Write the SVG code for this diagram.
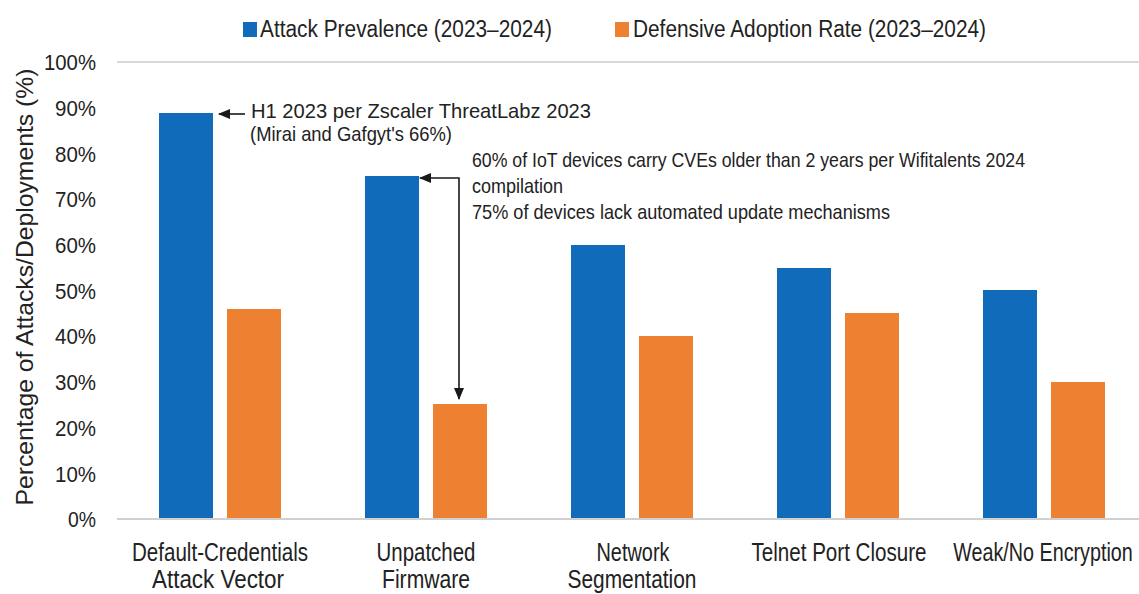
<svg xmlns="http://www.w3.org/2000/svg" width="1139" height="594" viewBox="0 0 1139 594">
  <style>
    text { font-family: "Liberation Sans Narrow", "Liberation Sans", Arial, sans-serif; fill: #222222; }
    .tick { font-size: 22px; text-anchor: end; }
    .cat { font-size: 25px; text-anchor: middle; }
    .legend { font-size: 23px; }
    .note { font-size: 21px; }
    .title { font-size: 24px; text-anchor: middle; }
    .grid { stroke: #d9d9d9; stroke-width: 2; }
    .base { stroke: #d0d0d0; stroke-width: 2; }
    .attack { fill: #106cba; }
    .defense { fill: #ee8131; }
    .arrow { fill: none; stroke: #1a1a1a; stroke-width: 1.6; }
  </style>
  <defs>
    <marker id="head" viewBox="0 0 12 10" refX="11" refY="5" markerWidth="12" markerHeight="10" markerUnits="userSpaceOnUse" orient="auto-start-reverse">
      <path d="M0,0 L12,5 L0,10 Z" fill="#1a1a1a"/>
    </marker>
  </defs>

  <rect width="1139" height="594" fill="#ffffff"/>

  <!-- legend -->
  <g id="legend">
    <rect class="attack" x="243" y="22" width="14" height="15"/>
    <text class="legend" x="260" y="37" textLength="292" lengthAdjust="spacingAndGlyphs">Attack Prevalence (2023–2024)</text>
    <rect class="defense" x="615" y="22" width="14" height="15"/>
    <text class="legend" x="633" y="37" textLength="353" lengthAdjust="spacingAndGlyphs">Defensive Adoption Rate (2023–2024)</text>
  </g>

  <!-- value axis -->
  <g id="axis-y">
    <line class="grid" x1="117" y1="62" x2="1139" y2="62"/>
    <text class="tick" x="96" y="70" textLength="52" lengthAdjust="spacingAndGlyphs">100%</text>
    <text class="tick" x="96" y="116" textLength="41" lengthAdjust="spacingAndGlyphs">90%</text>
    <text class="tick" x="96" y="162" textLength="41" lengthAdjust="spacingAndGlyphs">80%</text>
    <text class="tick" x="96" y="207" textLength="41" lengthAdjust="spacingAndGlyphs">70%</text>
    <text class="tick" x="96" y="253" textLength="41" lengthAdjust="spacingAndGlyphs">60%</text>
    <text class="tick" x="96" y="299" textLength="41" lengthAdjust="spacingAndGlyphs">50%</text>
    <text class="tick" x="96" y="344" textLength="41" lengthAdjust="spacingAndGlyphs">40%</text>
    <text class="tick" x="96" y="390" textLength="41" lengthAdjust="spacingAndGlyphs">30%</text>
    <text class="tick" x="96" y="436" textLength="41" lengthAdjust="spacingAndGlyphs">20%</text>
    <text class="tick" x="96" y="482" textLength="41" lengthAdjust="spacingAndGlyphs">10%</text>
    <text class="tick" x="96" y="527" textLength="28" lengthAdjust="spacingAndGlyphs">0%</text>
    <text class="title" transform="translate(33,287) rotate(-90)" x="0" y="0" textLength="437" lengthAdjust="spacingAndGlyphs">Percentage of Attacks/Deployments (%)</text>
  </g>

  <!-- bars: blue = attack prevalence, orange = defensive adoption -->
  <g id="cat-default-credentials">
    <rect class="attack" x="159" y="113" width="54" height="406"/>
    <rect class="defense" x="227" y="309" width="54" height="210"/>
    <text class="cat" x="220" y="561" textLength="176" lengthAdjust="spacingAndGlyphs">Default-Credentials</text>
    <text class="cat" x="218" y="588" textLength="132" lengthAdjust="spacingAndGlyphs">Attack Vector</text>
  </g>
  <g id="cat-unpatched-firmware">
    <rect class="attack" x="365" y="176" width="54" height="343"/>
    <rect class="defense" x="433" y="404" width="54" height="115"/>
    <text class="cat" x="426" y="561" textLength="99" lengthAdjust="spacingAndGlyphs">Unpatched</text>
    <text class="cat" x="426" y="588" textLength="88" lengthAdjust="spacingAndGlyphs">Firmware</text>
  </g>
  <g id="cat-network-segmentation">
    <rect class="attack" x="571" y="245" width="54" height="274"/>
    <rect class="defense" x="639" y="336" width="54" height="183"/>
    <text class="cat" x="633" y="561" textLength="73" lengthAdjust="spacingAndGlyphs">Network</text>
    <text class="cat" x="632" y="588" textLength="129" lengthAdjust="spacingAndGlyphs">Segmentation</text>
  </g>
  <g id="cat-telnet-port-closure">
    <rect class="attack" x="777" y="268" width="54" height="251"/>
    <rect class="defense" x="845" y="313" width="54" height="206"/>
    <text class="cat" x="839" y="561" textLength="175" lengthAdjust="spacingAndGlyphs">Telnet Port Closure</text>
  </g>
  <g id="cat-weak-encryption">
    <rect class="attack" x="983" y="290" width="54" height="229"/>
    <rect class="defense" x="1051" y="382" width="54" height="137"/>
    <text class="cat" transform="translate(1043,561) scale(0.79,1)" x="0" y="0">Weak/No Encryption</text>
  </g>

  <line class="base" x1="117" y1="519" x2="1139" y2="519"/>

  <!-- annotations -->
  <g id="note-zscaler">
    <text class="note" x="251" y="118" textLength="340" lengthAdjust="spacingAndGlyphs">H1 2023 per Zscaler ThreatLabz 2023</text>
    <text class="note" x="250" y="141" textLength="202" lengthAdjust="spacingAndGlyphs">(Mirai and Gafgyt's 66%)</text>
  </g>
  <g id="note-firmware">
    <text class="note" x="472" y="167" textLength="553" lengthAdjust="spacingAndGlyphs">60% of IoT devices carry CVEs older than 2 years per Wifitalents 2024</text>
    <text class="note" x="472" y="193" textLength="91" lengthAdjust="spacingAndGlyphs">compilation</text>
    <text class="note" x="472" y="219" textLength="418" lengthAdjust="spacingAndGlyphs">75% of devices lack automated update mechanisms</text>
  </g>

  <!-- connectors -->
  <g id="connectors">
    <path class="arrow" d="M245,114 H219" marker-end="url(#head)"/>
    <path class="arrow" d="M420,178 H459 V399" marker-start="url(#head)" marker-end="url(#head)"/>
  </g>
</svg>
